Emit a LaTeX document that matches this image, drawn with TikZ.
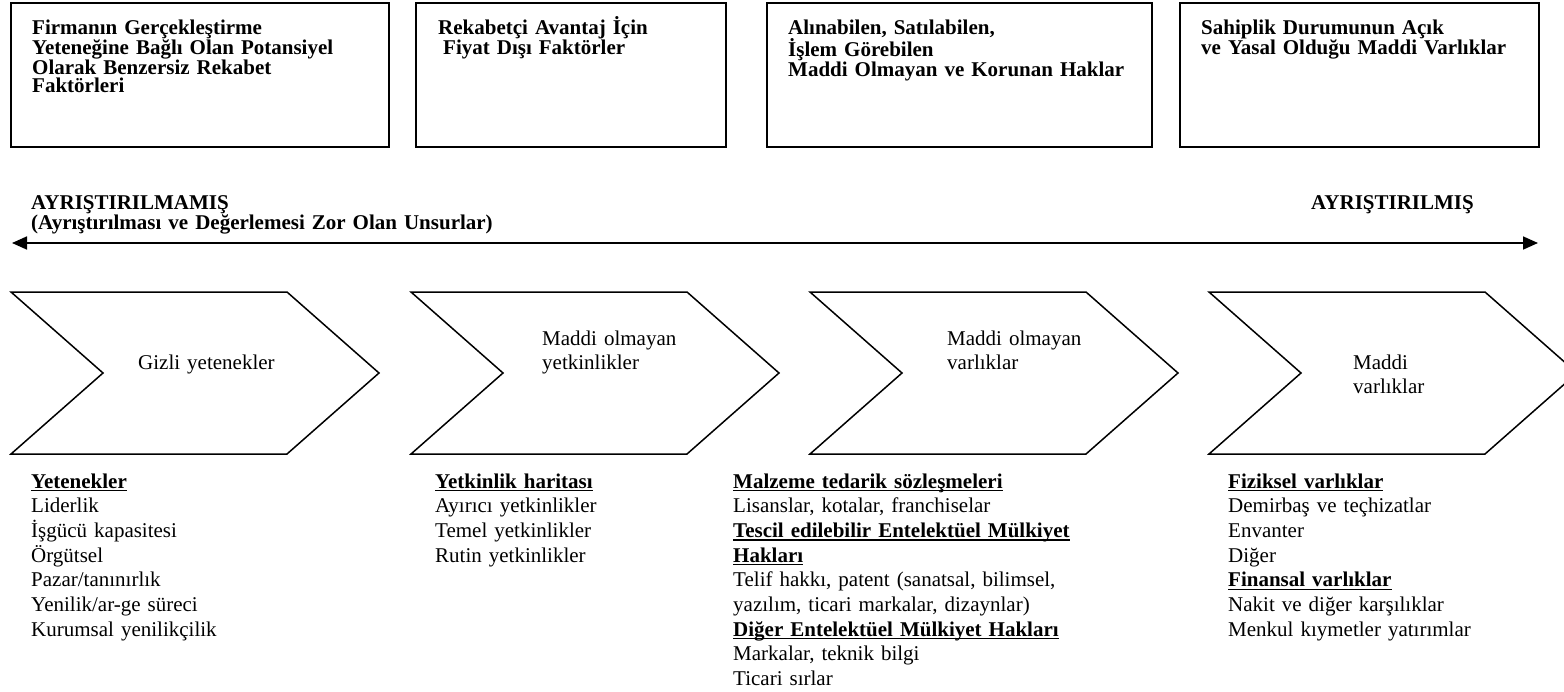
\documentclass[tikz,border=0pt]{standalone}
\usepackage{fontspec}
\setmainfont{Liberation Serif}
\usetikzlibrary{arrows.meta}
\newcommand{\altcizgi}[1]{\leavevmode\setbox0\hbox{\bfseries #1}\rlap{\rule[-3.2pt]{\wd0}{1.4pt}}\box0}
\begin{document}
\begin{tikzpicture}[x=1pt,y=-1pt,
		baslik/.style={anchor=base west,inner sep=0pt,text width=#1,align=left,font=\fontsize{21}{18.6}\selectfont\bfseries},
		baslik/.default=330pt,
		liste/.style={anchor=base west,inner sep=0pt,text width=#1,align=left,font=\fontsize{21}{24.7}\selectfont},
		liste/.default=320pt,
		kutu/.style={line width=1.8pt},
		ok/.style={line width=1.7pt,{Triangle[length=15pt,width=13pt]}-{Triangle[length=15pt,width=13pt]}}]
				\useasboundingbox (0,0) rectangle (1564,691);
				\clip (0,0) rectangle (1564,691);
				\draw[kutu] (11,3) rectangle (389,147);
				\draw[kutu] (416,3) rectangle (726,147);
				\draw[kutu] (767,3) rectangle (1152,147);
				\draw[kutu] (1180,3) rectangle (1539,147);
				\node[baslik] (t1) at (32,34) {Firmanın Gerçekleştirme\\Yeteneğine Bağlı Olan Potansiyel\\Olarak Benzersiz Rekabet\\Faktörleri};
				\node[baslik=280pt] (t2) at (438,34) {Rekabetçi Avantaj İçin\\\hspace*{5pt}Fiyat Dışı Faktörler};
				\node[baslik=355pt] (t3) at (788,34) {Alınabilen, Satılabilen,\\İşlem Görebilen\\Maddi Olmayan ve Korunan Haklar};
				\node[baslik] (t4) at (1201,34) {Sahiplik Durumunun Açık\\ve Yasal Olduğu Maddi Varlıklar};
				\node[baslik=500pt] (sol) at (31,209) {AYRIŞTIRILMAMIŞ\\(Ayrıştırılması ve Değerlemesi Zor Olan Unsurlar)};
				\node[baslik=240pt] (sag) at (1311,209) {AYRIŞTIRILMIŞ};
				\coordinate (a1) at (12,243);
				\coordinate (a2) at (1538,243);
				\draw[ok] (a1) -- (a2);
				\foreach \n/\a in {1/11,2/411,3/810,4/1209}{
						\draw[line width=1.5pt] (\a,292) -- ++(276,0) -- ++(92,81) -- ++(-92,81) -- ++(-276,0) -- ++(92,-81) -- cycle;
					}
				\node[liste=200pt] (c1) at (138,369) {Gizli yetenekler};
				\node[liste=200pt] (c2) at (542,345) {Maddi olmayan\\yetkinlikler};
				\node[liste=200pt] (c3) at (947,345) {Maddi olmayan\\varlıklar};
				\node[liste=150pt] (c4) at (1353,369) {Maddi\\varlıklar};
				\node[liste] (l1) at (31,488) {\altcizgi{Yetenekler}\\Liderlik\\İşgücü kapasitesi\\Örgütsel\\Pazar/tanınırlık\\Yenilik/ar-ge süreci\\Kurumsal yenilikçilik};
				\node[liste] (l2) at (435,488) {\altcizgi{Yetkinlik haritası}\\Ayırıcı yetkinlikler\\Temel yetkinlikler\\Rutin yetkinlikler};
				\node[liste=360pt] (l3) at (733,488) {\altcizgi{Malzeme tedarik sözleşmeleri}\\Lisanslar, kotalar, franchiselar\\\altcizgi{Tescil edilebilir Entelektüel Mülkiyet}\\\altcizgi{Hakları}\\Telif hakkı, patent (sanatsal, bilimsel,\\yazılım, ticari markalar, dizaynlar)\\\altcizgi{Diğer Entelektüel Mülkiyet Hakları}\\Markalar, teknik bilgi\\Ticari sırlar};
				\node[liste=330pt] (l4) at (1228,488) {\altcizgi{Fiziksel varlıklar}\\Demirbaş ve teçhizatlar\\Envanter\\Diğer\\\altcizgi{Finansal varlıklar}\\Nakit ve diğer karşılıklar\\Menkul kıymetler yatırımlar};
			\end{tikzpicture}
\end{document}
